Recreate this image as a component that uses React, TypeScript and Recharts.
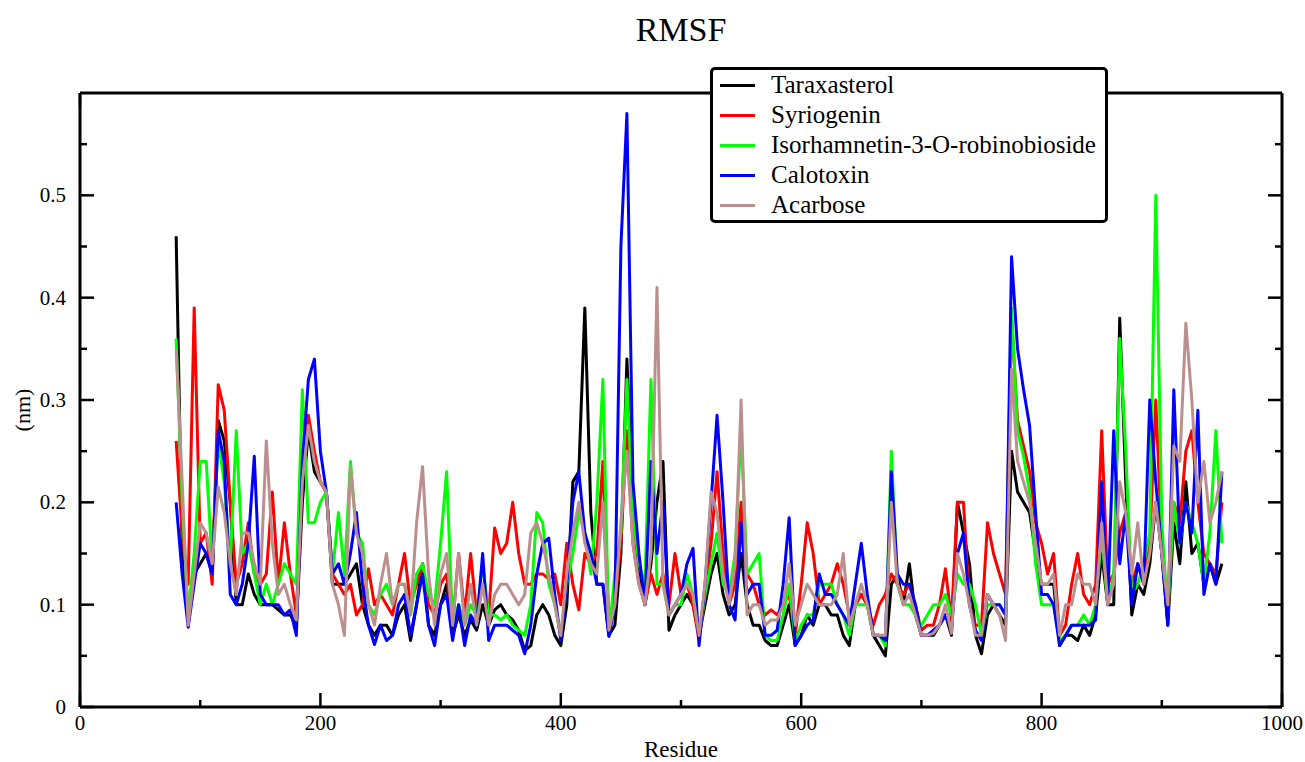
import React from "react";
import { LineChart, Line, XAxis, YAxis } from "recharts";

const residues = [
  80, 85, 90, 95, 100, 105, 110, 115, 120, 125,
  130, 135, 140, 145, 150, 155, 160, 165, 170, 175,
  180, 185, 190, 195, 200, 205, 210, 215, 220, 225,
  230, 235, 240, 245, 250, 255, 260, 265, 270, 275,
  280, 285, 290, 295, 300, 305, 310, 315, 320, 325,
  330, 335, 340, 345, 350, 355, 360, 365, 370, 375,
  380, 385, 390, 395, 400, 405, 410, 415, 420, 425,
  430, 435, 440, 445, 450, 455, 460, 465, 470, 475,
  480, 485, 490, 495, 500, 505, 510, 515, 520, 525,
  530, 535, 540, 545, 550, 555, 560, 565, 570, 575,
  580, 585, 590, 595, 600, 605, 610, 615, 620, 625,
  630, 635, 640, 645, 650, 655, 660, 665, 670, 675,
  680, 685, 690, 695, 700, 705, 710, 715, 720, 725,
  730, 735, 740, 745, 750, 755, 760, 765, 770, 775,
  780, 785, 790, 795, 800, 805, 810, 815, 820, 825,
  830, 835, 840, 845, 850, 855, 860, 865, 870, 875,
  880, 885, 890, 895, 900, 905, 910, 915, 920, 925,
  930, 935, 940, 945, 950,
];

const taraxasterol = [
  0.46, 0.15, 0.09, 0.13, 0.14, 0.15, 0.13, 0.28, 0.26, 0.2,
  0.1, 0.1, 0.13, 0.11, 0.1, 0.1, 0.1, 0.095, 0.09, 0.09,
  0.08, 0.2, 0.27, 0.23, 0.22, 0.21, 0.12, 0.12, 0.12, 0.13,
  0.14, 0.1, 0.08, 0.07, 0.08, 0.08, 0.07, 0.09, 0.1, 0.065,
  0.1, 0.14, 0.08, 0.07, 0.1, 0.12, 0.07, 0.09, 0.07, 0.085,
  0.075, 0.1, 0.08, 0.095, 0.1, 0.09, 0.085, 0.075, 0.055, 0.06,
  0.09, 0.1, 0.09, 0.07, 0.06, 0.1, 0.22, 0.23, 0.39, 0.19,
  0.12, 0.12, 0.07, 0.08, 0.15, 0.34, 0.2, 0.13, 0.1, 0.14,
  0.2, 0.24, 0.075, 0.09, 0.1, 0.11, 0.1, 0.07, 0.1, 0.13,
  0.15, 0.11, 0.09, 0.1, 0.15, 0.1, 0.08, 0.08, 0.065, 0.06,
  0.06, 0.08, 0.1, 0.06, 0.07, 0.09, 0.08, 0.1, 0.1, 0.09,
  0.09, 0.07, 0.06, 0.1, 0.11, 0.1, 0.07, 0.06, 0.05, 0.12,
  0.13, 0.1, 0.14, 0.09, 0.07, 0.07, 0.07, 0.08, 0.09, 0.07,
  0.2, 0.17, 0.14, 0.07, 0.052, 0.09, 0.1, 0.09, 0.08, 0.25,
  0.21, 0.2, 0.19, 0.15, 0.12, 0.12, 0.12, 0.06, 0.07, 0.07,
  0.065, 0.08, 0.07, 0.09, 0.15, 0.1, 0.1, 0.38, 0.22, 0.09,
  0.12, 0.11, 0.14, 0.2, 0.15, 0.08, 0.18, 0.14, 0.22, 0.15,
  0.16, 0.12, 0.14, 0.12, 0.14,
];

const syriogenin = [
  0.26, 0.17, 0.12, 0.39, 0.16, 0.17, 0.12, 0.315, 0.29, 0.2,
  0.12, 0.14, 0.18, 0.13, 0.12, 0.13, 0.21, 0.12, 0.18, 0.13,
  0.09, 0.24, 0.285, 0.25, 0.22, 0.21, 0.13, 0.12, 0.11, 0.12,
  0.09, 0.1, 0.135, 0.1, 0.11, 0.1, 0.09, 0.12, 0.15, 0.1,
  0.12, 0.14, 0.1, 0.09, 0.12, 0.13, 0.08, 0.15, 0.09, 0.15,
  0.09, 0.12, 0.09, 0.175, 0.15, 0.16, 0.2, 0.15, 0.12, 0.12,
  0.13, 0.13, 0.125, 0.13, 0.1, 0.16, 0.12, 0.095, 0.15, 0.14,
  0.15, 0.24, 0.08, 0.1, 0.16, 0.27, 0.16, 0.12, 0.1, 0.13,
  0.11, 0.13, 0.1, 0.15, 0.11, 0.12, 0.1, 0.065, 0.11, 0.16,
  0.23, 0.15, 0.1, 0.12, 0.2, 0.13, 0.12, 0.1, 0.09, 0.095,
  0.09, 0.1, 0.11, 0.07, 0.12, 0.18, 0.15, 0.1, 0.11, 0.12,
  0.14, 0.12, 0.09, 0.1, 0.11, 0.1, 0.08, 0.1, 0.11, 0.13,
  0.12, 0.11, 0.12, 0.1, 0.075, 0.08, 0.08, 0.1, 0.135, 0.085,
  0.2, 0.2, 0.1, 0.08, 0.08, 0.18, 0.15, 0.13, 0.11, 0.38,
  0.28, 0.255, 0.23, 0.18, 0.16, 0.13, 0.15, 0.07, 0.08, 0.12,
  0.15, 0.11, 0.1, 0.12, 0.27, 0.12, 0.13, 0.17, 0.19, 0.12,
  0.14, 0.12, 0.16, 0.3, 0.16, 0.09, 0.2, 0.18, 0.25, 0.27,
  0.2, 0.15, 0.14, 0.13, 0.2,
];

const isorhamnetin = [
  0.36, 0.2, 0.09, 0.15, 0.24, 0.24, 0.14, 0.26, 0.22, 0.14,
  0.27, 0.15, 0.16, 0.13, 0.1, 0.12, 0.1, 0.12, 0.14, 0.13,
  0.12, 0.31, 0.18, 0.18, 0.2, 0.21, 0.13, 0.19, 0.13, 0.24,
  0.17, 0.16, 0.1, 0.09, 0.11, 0.12, 0.1, 0.12, 0.12, 0.09,
  0.13, 0.14, 0.11, 0.1, 0.16, 0.23, 0.08, 0.1, 0.08, 0.1,
  0.09, 0.14, 0.09, 0.09, 0.085, 0.09, 0.08, 0.075, 0.07, 0.1,
  0.19, 0.18, 0.12, 0.1, 0.07, 0.12, 0.15, 0.19, 0.17, 0.13,
  0.2, 0.32, 0.07, 0.13, 0.17, 0.32, 0.19, 0.14, 0.12, 0.32,
  0.12, 0.12, 0.09, 0.1, 0.1, 0.13, 0.11, 0.07, 0.11, 0.14,
  0.17, 0.12, 0.11, 0.15, 0.27, 0.13, 0.14, 0.15, 0.07, 0.065,
  0.065, 0.09, 0.12, 0.065, 0.08, 0.09, 0.09, 0.12, 0.12, 0.12,
  0.1, 0.09, 0.07, 0.1, 0.1, 0.1, 0.07, 0.07, 0.06, 0.25,
  0.12, 0.1, 0.1, 0.09, 0.08, 0.09, 0.1, 0.1, 0.11, 0.09,
  0.13, 0.12, 0.12, 0.1, 0.07, 0.1, 0.1, 0.1, 0.09, 0.39,
  0.27, 0.245, 0.21, 0.14, 0.1, 0.1, 0.1, 0.065, 0.07, 0.08,
  0.08, 0.09, 0.08, 0.1, 0.17, 0.1, 0.13, 0.36, 0.25, 0.11,
  0.12, 0.14, 0.17, 0.5, 0.18, 0.09, 0.2, 0.16, 0.2, 0.18,
  0.16, 0.12, 0.17, 0.27, 0.16,
];

const calotoxin = [
  0.2, 0.13, 0.078, 0.12, 0.16, 0.15, 0.13, 0.27, 0.24, 0.11,
  0.1, 0.12, 0.16, 0.245, 0.11, 0.1, 0.1, 0.1, 0.09, 0.095,
  0.07, 0.24, 0.32, 0.34, 0.25, 0.21, 0.13, 0.14, 0.12, 0.15,
  0.19, 0.12, 0.08, 0.061, 0.08, 0.065, 0.07, 0.1, 0.11, 0.07,
  0.1, 0.13, 0.08, 0.06, 0.1, 0.11, 0.065, 0.1, 0.06, 0.09,
  0.08, 0.15, 0.065, 0.08, 0.08, 0.08, 0.075, 0.07, 0.052, 0.08,
  0.13, 0.16, 0.165, 0.11, 0.065, 0.12, 0.2, 0.23, 0.17, 0.15,
  0.12, 0.12, 0.069, 0.1, 0.45, 0.58, 0.22, 0.15, 0.1, 0.24,
  0.15, 0.2, 0.09, 0.1, 0.11, 0.14, 0.155, 0.06, 0.12, 0.2,
  0.285, 0.2, 0.1, 0.085, 0.18, 0.11, 0.12, 0.12, 0.07, 0.07,
  0.075, 0.12, 0.185, 0.06, 0.07, 0.08, 0.085, 0.13, 0.11, 0.11,
  0.1, 0.09, 0.08, 0.12, 0.16, 0.11, 0.07, 0.07, 0.065, 0.23,
  0.13, 0.12, 0.12, 0.1, 0.07, 0.07, 0.075, 0.08, 0.09, 0.075,
  0.15, 0.17, 0.1, 0.075, 0.065, 0.11, 0.1, 0.1, 0.09, 0.44,
  0.35, 0.31, 0.275, 0.19, 0.11, 0.11, 0.1, 0.06, 0.07, 0.08,
  0.08, 0.08, 0.08, 0.085, 0.22, 0.1, 0.27, 0.14, 0.19, 0.1,
  0.14, 0.12, 0.3, 0.22, 0.15, 0.08, 0.31, 0.16, 0.2, 0.17,
  0.29, 0.11, 0.14, 0.12, 0.23,
];

const acarbose = [
  0.35, 0.22, 0.08, 0.13, 0.18, 0.17, 0.14, 0.215, 0.19, 0.14,
  0.11, 0.17, 0.17, 0.14, 0.12, 0.26, 0.16, 0.11, 0.12, 0.1,
  0.085, 0.22, 0.275, 0.24, 0.22, 0.21, 0.12, 0.1, 0.07, 0.235,
  0.17, 0.15, 0.1, 0.08, 0.12, 0.15, 0.1, 0.12, 0.12, 0.09,
  0.18, 0.235, 0.13, 0.08, 0.13, 0.15, 0.08, 0.15, 0.08, 0.12,
  0.08, 0.12, 0.08, 0.11, 0.12, 0.12, 0.11, 0.1, 0.11, 0.17,
  0.18, 0.16, 0.13, 0.1, 0.07, 0.13, 0.17, 0.2, 0.16, 0.14,
  0.13, 0.2, 0.075, 0.1, 0.18, 0.25, 0.16, 0.12, 0.1, 0.15,
  0.41, 0.12, 0.09, 0.1, 0.11, 0.12, 0.11, 0.07, 0.12, 0.21,
  0.19, 0.13, 0.1, 0.14, 0.3, 0.09, 0.1, 0.1, 0.08, 0.085,
  0.085, 0.1, 0.14, 0.08, 0.1, 0.12, 0.11, 0.1, 0.1, 0.1,
  0.11, 0.15, 0.08, 0.1, 0.12, 0.1, 0.07, 0.07, 0.07, 0.2,
  0.12, 0.1, 0.11, 0.09, 0.07, 0.07, 0.072, 0.08, 0.1, 0.072,
  0.15, 0.13, 0.1, 0.07, 0.07, 0.11, 0.1, 0.09, 0.065, 0.33,
  0.24, 0.22, 0.2, 0.16, 0.12, 0.12, 0.13, 0.07, 0.1, 0.1,
  0.13, 0.12, 0.12, 0.1, 0.18, 0.1, 0.12, 0.22, 0.19, 0.13,
  0.18, 0.12, 0.15, 0.2, 0.15, 0.1, 0.255, 0.24, 0.375, 0.3,
  0.2, 0.24, 0.18, 0.2, 0.23,
];

const series = [
  { key: "taraxasterol", name: "Taraxasterol", color: "#000000", values: taraxasterol },
  { key: "syriogenin", name: "Syriogenin", color: "#ff0000", values: syriogenin },
  { key: "isorhamnetin", name: "Isorhamnetin-3-O-robinobioside", color: "#00ff00", values: isorhamnetin },
  { key: "calotoxin", name: "Calotoxin", color: "#0000ff", values: calotoxin },
  { key: "acarbose", name: "Acarbose", color: "#bc8f8f", values: acarbose },
];

const xTicks = [0, 100, 200, 300, 400, 500, 600, 700, 800, 900, 1000];
const yTicks = [0, 0.05, 0.1, 0.15, 0.2, 0.25, 0.3, 0.35, 0.4, 0.45, 0.5, 0.55];

const FONT = '"Liberation Serif", "Times New Roman", serif';

const data = residues.map((r, i) => {
  const row: Record<string, number> = { residue: r };
  series.forEach((s) => {
    row[s.key] = s.values[i];
  });
  return row;
});

const isMajorX = (v: number) => v % 200 === 0;
const isMajorY = (v: number) => Math.abs(v * 10 - Math.round(v * 10)) < 1e-6;

function BottomTick(props: any) {
  const { x, y, payload } = props;
  const major = isMajorX(payload.value);
  return (
    <g>
      <line x1={x} y1={y} x2={x} y2={y - (major ? 14 : 7)} stroke="#000" strokeWidth={2.5} />
      {major && (
        <text x={x} y={y + 16} textAnchor="middle" dominantBaseline="central" fontSize={21} fontFamily={FONT} fill="#000">
          {payload.value}
        </text>
      )}
    </g>
  );
}

function TopTick(props: any) {
  const { x, y, payload } = props;
  const major = isMajorX(payload.value);
  return <line x1={x} y1={y} x2={x} y2={y + (major ? 14 : 7)} stroke="#000" strokeWidth={2.5} />;
}

function LeftTick(props: any) {
  const { x, y, payload } = props;
  const major = isMajorY(payload.value);
  return (
    <g>
      <line x1={x} y1={y} x2={x + (major ? 14 : 7)} y2={y} stroke="#000" strokeWidth={2.5} />
      {major && (
        <text x={x - 14} y={y} textAnchor="end" dominantBaseline="central" fontSize={21} fontFamily={FONT} fill="#000">
          {String(Math.round(payload.value * 10) / 10)}
        </text>
      )}
    </g>
  );
}

function RightTick(props: any) {
  const { x, y, payload } = props;
  const major = isMajorY(payload.value);
  return <line x1={x} y1={y} x2={x - (major ? 14 : 7)} y2={y} stroke="#000" strokeWidth={2.5} />;
}

const frame = { stroke: "#000", strokeWidth: 3 };

export default function App() {
  return (
    <div style={{ position: "absolute", left: 0, top: 0, width: 1305, height: 762, background: "#fff" }}>
      <div
        style={{
          position: "absolute",
          left: 80,
          top: 11,
          width: 1202,
          textAlign: "center",
          fontFamily: FONT,
          fontSize: 34,
          lineHeight: "38px",
        }}
      >
        RMSF
      </div>
      <LineChart width={1305} height={762} data={data} margin={{ top: 0, right: 0, bottom: 0, left: 0 }}>
        <XAxis
          dataKey="residue"
          type="number"
          domain={[0, 1000]}
          ticks={xTicks}
          interval={0}
          height={55}
          axisLine={frame}
          tickLine={false}
          tickSize={0}
          tickMargin={0}
          tick={<BottomTick />}
          allowDataOverflow
          label={{
            value: "Residue",
            position: "insideBottom",
            offset: 5,
            style: { fontFamily: FONT, fontSize: 23, fill: "#000" },
          }}
        />
        <XAxis
          xAxisId="top"
          orientation="top"
          type="number"
          domain={[0, 1000]}
          ticks={xTicks}
          interval={0}
          height={93}
          axisLine={frame}
          tickLine={false}
          tickSize={0}
          tickMargin={0}
          tick={<TopTick />}
          allowDataOverflow
        />
        <YAxis
          type="number"
          domain={[0, 0.6]}
          ticks={yTicks}
          interval={0}
          width={80}
          axisLine={frame}
          tickLine={false}
          tickSize={0}
          tickMargin={0}
          tick={<LeftTick />}
          allowDataOverflow
          label={{
            content: (p: any) => {
              const vb = p.viewBox;
              const cx = vb.x + 22;
              const cy = vb.y + vb.height / 2 + 10;
              return (
                <text
                  x={cx}
                  y={cy}
                  transform={`rotate(-90 ${cx} ${cy})`}
                  textAnchor="middle"
                  dominantBaseline="central"
                  fontSize={22}
                  fontFamily={FONT}
                  fill="#000"
                >
                  (nm)
                </text>
              );
            },
          }}
        />
        <YAxis
          yAxisId="right"
          orientation="right"
          type="number"
          domain={[0, 0.6]}
          ticks={yTicks}
          interval={0}
          width={23}
          axisLine={frame}
          tickLine={false}
          tickSize={0}
          tickMargin={0}
          tick={<RightTick />}
          allowDataOverflow
        />
        {series.map((s) => (
          <Line
            key={s.key}
            dataKey={s.key}
            name={s.name}
            type="linear"
            stroke={s.color}
            strokeWidth={3}
            strokeLinejoin="round"
            dot={false}
            isAnimationActive={false}
          />
        ))}
      </LineChart>
      <div
        style={{
          position: "absolute",
          left: 710,
          top: 67,
          width: 398,
          height: 156,
          boxSizing: "border-box",
          border: "3px solid #000",
          borderRadius: 5,
          background: "#fff",
          fontFamily: FONT,
          fontSize: 25,
        }}
      >
        {series.map((s) => (
          <div key={s.key} style={{ display: "flex", alignItems: "center", height: 30 }}>
            <span style={{ display: "inline-block", width: 35, height: 3, background: s.color, marginLeft: 7 }} />
            <span style={{ marginLeft: 16, lineHeight: "30px", whiteSpace: "nowrap" }}>{s.name}</span>
          </div>
        ))}
      </div>
    </div>
  );
}
